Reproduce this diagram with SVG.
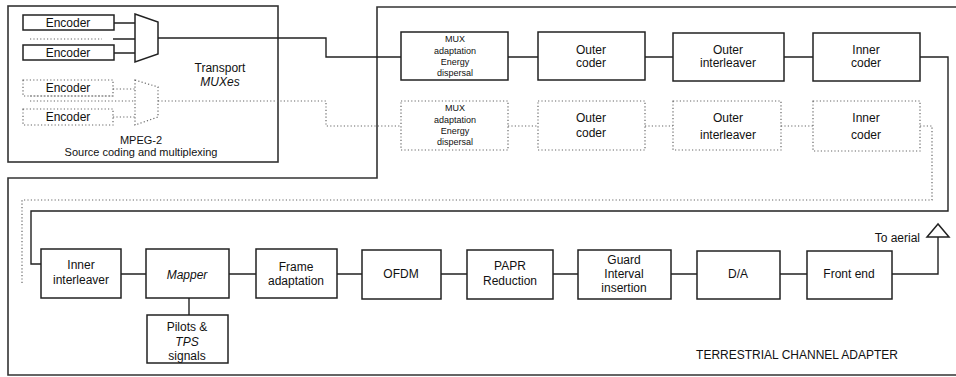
<svg xmlns="http://www.w3.org/2000/svg" width="956" height="377" viewBox="0 0 956 377">
<style>
text{font-family:"Liberation Sans",Arial,sans-serif;fill:#111;text-anchor:middle}
.t12{font-size:12px}
.t11{font-size:11px}
.t9{font-size:9px}
.it{font-style:italic}
.box{fill:none;stroke:#222;stroke-width:1.5}
.dbox{fill:none;stroke:#666;stroke-width:1.2;stroke-dasharray:1.2 2.2}
.ln{fill:none;stroke:#222;stroke-width:1.4}
.dl{fill:none;stroke:#666;stroke-width:1.2;stroke-dasharray:1.2 2.2}
.frame{fill:none;stroke:#333;stroke-width:1.6}
</style>
<rect width="956" height="377" fill="#fff"/>
<g id="frames">
<rect class="frame" x="8" y="6" width="270" height="156"/>
<path class="frame" d="M960,7 H377 V178 H8 V375 H960"/>
</g>
<g id="connectors">
<path class="ln" d="M114,23 H135 M113,39 H135 M114,53 H135"/>
<path class="dl" d="M30,39 H102"/>
<path class="ln" d="M158,38 H326 V57 H401"/>
<path class="dl" d="M113,89 H135 M30,101 H135 M113,117 H135 M30,96 H113"/>
<path class="dl" d="M158,101 H326 V126 H401"/>
<path class="ln" d="M508,57 H538 M645,57 H673 M784,57 H813"/>
<path class="dl" d="M508,126 H538 M645,126 H673 M781,126 H813"/>
<path class="ln" d="M920,57 H948 V211 H31 V264 H41"/>
<path class="dl" d="M920,126 H932 V200 H22 V285"/>
<path class="ln" d="M121,274 H146 M229,274 H256 M337,274 H362 M441,274 H467 M553,274 H578 M671,274 H697 M780,274 H807 M892,274 H938 V237"/>
<path class="ln" d="M189,298 V315"/>
</g>
<g id="encoder1"><rect class="box" x="23" y="15" width="91" height="15"/><text class="t12" x="68" y="27">Encoder</text></g>
<g id="encoder2"><rect class="box" x="23" y="45" width="91" height="15"/><text class="t12" x="68" y="57">Encoder</text></g>
<g id="mux"><path class="box" d="M135,14 L158,22 V54 L135,62 Z"/></g>
<g id="encoder3"><rect class="dbox" x="23" y="80" width="90" height="16"/><text class="t12" x="68" y="92">Encoder</text></g>
<g id="encoder4"><rect class="dbox" x="23" y="109" width="90" height="16"/><text class="t12" x="68" y="121">Encoder</text></g>
<g id="mux2"><path class="dbox" d="M135,80 L158,87 V117 L135,125 Z"/></g>
<g id="transport-label"><text class="t12" x="220" y="72">Transport</text><text class="t12 it" x="220" y="86">MUXes</text></g>
<g id="mpeg-label"><text class="t11" x="141" y="144">MPEG-2</text><text class="t11" x="141" y="156">Source coding and multiplexing</text></g>
<g id="muxadapt"><rect class="box" x="401" y="32" width="107" height="48"/><text class="t9" x="455" y="42">MUX</text><text class="t9" x="455" y="54">adaptation</text><text class="t9" x="455" y="65">Energy</text><text class="t9" x="455" y="76">dispersal</text></g>
<g id="outercoder"><rect class="box" x="538" y="32" width="107" height="48"/><text class="t12" x="591" y="54">Outer</text><text class="t12" x="591" y="67">coder</text></g>
<g id="outerinterleaver"><rect class="box" x="673" y="33" width="111" height="48"/><text class="t12" x="728" y="54">Outer</text><text class="t12" x="728" y="67">interleaver</text></g>
<g id="innercoder"><rect class="box" x="813" y="33" width="107" height="48"/><text class="t12" x="866" y="54">Inner</text><text class="t12" x="866" y="67">coder</text></g>
<g id="muxadapt2"><rect class="dbox" x="401" y="101" width="107" height="49"/><text class="t9" x="455" y="111">MUX</text><text class="t9" x="455" y="123">adaptation</text><text class="t9" x="455" y="134">Energy</text><text class="t9" x="455" y="145">dispersal</text></g>
<g id="outercoder2"><rect class="dbox" x="538" y="101" width="107" height="49"/><text class="t12" x="591" y="122">Outer</text><text class="t12" x="591" y="137">coder</text></g>
<g id="outerinterleaver2"><rect class="dbox" x="673" y="101" width="108" height="49"/><text class="t12" x="728" y="122">Outer</text><text class="t12" x="728" y="139">interleaver</text></g>
<g id="innercoder2"><rect class="dbox" x="813" y="101" width="107" height="50"/><text class="t12" x="866" y="122">Inner</text><text class="t12" x="866" y="139">coder</text></g>
<g id="innerinterleaver"><rect class="box" x="41" y="249" width="80" height="49"/><text class="t12" x="81" y="269">Inner</text><text class="t12" x="81" y="284">interleaver</text></g>
<g id="mapper"><rect class="box" x="146" y="249" width="83" height="49"/><text class="t12 it" x="187" y="279">Mapper</text></g>
<g id="pilots"><rect class="box" x="147" y="315" width="81" height="48"/><text class="t12" x="187" y="331">Pilots &amp;</text><text class="t12 it" x="187" y="346">TPS</text><text class="t12" x="187" y="360">signals</text></g>
<g id="frameadapt"><rect class="box" x="256" y="249" width="81" height="49"/><text class="t12" x="296" y="271">Frame</text><text class="t12" x="296" y="285">adaptation</text></g>
<g id="ofdm"><rect class="box" x="362" y="250" width="79" height="49"/><text class="t12" x="401" y="278">OFDM</text></g>
<g id="papr"><rect class="box" x="467" y="250" width="86" height="49"/><text class="t12" x="510" y="270">PAPR</text><text class="t12" x="510" y="285">Reduction</text></g>
<g id="guard"><rect class="box" x="578" y="250" width="93" height="49"/><text class="t12" x="624" y="264">Guard</text><text class="t12" x="624" y="278">Interval</text><text class="t12" x="624" y="292">insertion</text></g>
<g id="da"><rect class="box" x="697" y="251" width="83" height="48"/><text class="t12" x="738" y="278">D/A</text></g>
<g id="frontend"><rect class="box" x="807" y="251" width="85" height="48"/><text class="t12" x="849" y="278">Front end</text></g>
<g id="aerial"><path class="box" d="M938,224 L927,237 H949 Z" fill="#fff"/><text class="t12" x="920" y="242" style="text-anchor:end">To aerial</text></g>
<g id="adapter-label"><text class="t12" x="797" y="359">TERRESTRIAL CHANNEL ADAPTER</text></g>
</svg>
